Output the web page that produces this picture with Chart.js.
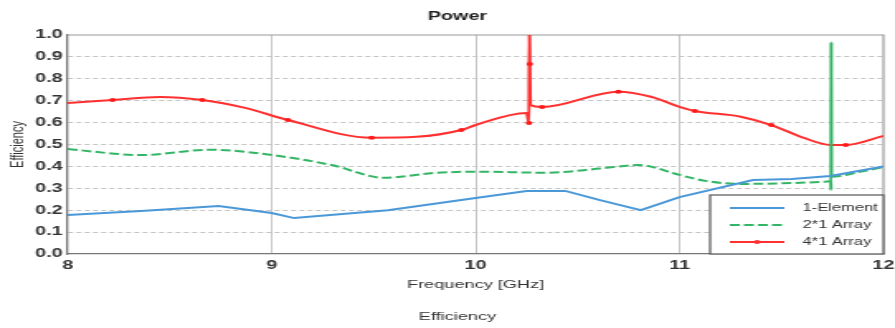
<!DOCTYPE html>
<html>
<head>
<meta charset="utf-8">
<script src="https://cdn.jsdelivr.net/npm/chart.js@4.4.1/dist/chart.umd.min.js"></script>
<style>
    html, body { margin: 0; padding: 0; background: #fff; overflow: hidden; }
</style>
</head>
<body>
<!-- the reference is a horizontally stretched capture: draw narrow, stretch with CSS -->
<canvas id="power-chart" width="542" height="328" style="width:895px;height:328px;display:block"></canvas>
<script>
// values (frequency in GHz, efficiency 0..1)
var seriesNames = ['1-Element', '2*1 Array', '4*1 Array'];

var elementFreq = [8.0, 8.36, 8.74, 9.0, 9.11, 9.57, 10.0, 10.25, 10.44, 10.61, 10.81, 11.0, 11.36, 11.55, 11.74, 12.0];
var elementEff  = [0.178, 0.196, 0.219, 0.187, 0.164, 0.200, 0.256, 0.288, 0.288, 0.246, 0.200, 0.260, 0.338, 0.342, 0.356, 0.400];

var array2Freq = [8.0, 8.36, 8.70, 9.0, 9.30, 9.55, 9.80, 10.0, 10.35, 10.61, 10.80, 11.0, 11.12, 11.30, 11.71, 11.742, 11.743, 11.744, 11.745, 11.89, 12.0];
var array2Eff  = [0.479, 0.452, 0.476, 0.452, 0.405, 0.348, 0.370, 0.376, 0.371, 0.390, 0.406, 0.361, 0.335, 0.320, 0.330, 0.332, 0.292, 0.968, 0.353, 0.376, 0.397];

var array4Freq = [8.0, 8.22, 8.45, 8.66, 8.87, 9.08, 9.49, 9.71, 9.93, 10.0, 10.25, 10.262, 10.264, 10.266, 10.268, 10.326, 10.70, 10.86, 11.0, 11.075, 11.30, 11.45, 11.61, 11.74, 11.815, 12.0];
var array4Eff  = [0.690, 0.703, 0.717, 0.703, 0.667, 0.612, 0.531, 0.535, 0.566, 0.589, 0.644, 0.598, 1.02, 0.868, 0.680, 0.671, 0.741, 0.718, 0.672, 0.653, 0.627, 0.589, 0.530, 0.498, 0.498, 0.539];
// frequencies where the 4*1 curve carries a marker
var array4Marked = [8.22, 8.66, 9.08, 9.49, 9.93, 10.262, 10.266, 10.326, 10.70, 11.075, 11.45, 11.815];

var freqTicks = [8, 9, 10, 11, 12];
var effTicks = [0.0, 0.1, 0.2, 0.3, 0.4, 0.5, 0.6, 0.7, 0.8, 0.9, 1.0];

function toPoints(xs, ys) {
    return xs.map(function (x, i) { return { x: x, y: ys[i] }; });
}

Chart.defaults.font.family = "'Liberation Sans', Arial, sans-serif";
Chart.defaults.color = '#333';

// gray frame round the plot (top and right edges)
var plotFrame = {
    id: 'plotFrame',
    beforeDatasetsDraw: function (chart) {
        var a = chart.chartArea, ctx = chart.ctx;
        ctx.save();
        ctx.strokeStyle = '#9a9a9a';
        ctx.lineWidth = 1.2;
        ctx.beginPath();
        ctx.moveTo(a.left, a.top);
        ctx.lineTo(a.right, a.top);
        ctx.lineTo(a.right, a.bottom);
        ctx.stroke();
        ctx.restore();
    }
};

// boxed legend in the lower right corner of the plot
var boxLegend = {
    id: 'boxLegend',
    afterDatasetsDraw: function (chart) {
        var a = chart.chartArea, ctx = chart.ctx;
        var x0 = a.right - 105, y0 = a.bottom - 59;
        ctx.save();
        ctx.fillStyle = '#fff';
        ctx.fillRect(x0, y0, a.right - x0, a.bottom - y0);
        ctx.strokeStyle = '#555';
        ctx.lineWidth = 1.2;
        ctx.strokeRect(x0, y0, a.right - x0, a.bottom - y0);
        chart.data.datasets.forEach(function (ds, i) {
            var y = y0 + 13 + i * 17;
            ctx.strokeStyle = ds.borderColor;
            ctx.lineWidth = ds.borderWidth;
            ctx.setLineDash(ds.borderDash || []);
            ctx.beginPath();
            ctx.moveTo(x0 + 12, y);
            ctx.lineTo(x0 + 45, y);
            ctx.stroke();
            ctx.setLineDash([]);
            if (ds.legendMarker) {
                ctx.fillStyle = ds.borderColor;
                ctx.beginPath();
                ctx.arc(x0 + 28.5, y, 2, 0, Math.PI * 2);
                ctx.fill();
            }
            ctx.fillStyle = '#333';
            ctx.font = "10px 'Liberation Sans', Arial, sans-serif";
            ctx.textBaseline = 'middle';
            ctx.fillText(ds.label, x0 + 56, y);
        });
        ctx.restore();
    }
};

var chart = new Chart(document.getElementById('power-chart'), {
    type: 'line',
    data: {
        datasets: [{
            label: seriesNames[0],
            data: toPoints(elementFreq, elementEff),
            borderColor: '#4a98d8',
            borderWidth: 2,
            pointRadius: 0,
            tension: 0
        }, {
            label: seriesNames[1],
            data: toPoints(array2Freq, array2Eff),
            borderColor: '#33b565',
            borderWidth: 2,
            borderDash: [6, 2.5],
            pointRadius: 0,
            cubicInterpolationMode: 'monotone',
            // the near-vertical spike is drawn solid
            segment: {
                borderDash: function (c) {
                    return Math.abs(c.p1.parsed.x - c.p0.parsed.x) < 0.01 ? [] : undefined;
                }
            }
        }, {
            label: seriesNames[2],
            data: toPoints(array4Freq, array4Eff),
            borderColor: '#ff3030',
            backgroundColor: '#ff1a1a',
            borderWidth: 2,
            pointRadius: function (c) {
                return array4Marked.indexOf(array4Freq[c.dataIndex]) >= 0 ? 2 : 0;
            },
            pointBorderWidth: 0,
            cubicInterpolationMode: 'monotone',
            legendMarker: true
        }]
    },
    options: {
        responsive: false,
        animation: false,
        events: [],
        layout: { padding: { left: 12, right: 0, top: 0, bottom: 0 } },
        plugins: {
            legend: { display: false },
            tooltip: { enabled: false },
            title: {
                display: true,
                text: 'Power',
                color: '#222',
                font: { size: 12, weight: 'bold' },
                padding: { top: 9.3, bottom: 11.3 }
            },
            subtitle: {
                display: true,
                position: 'bottom',
                text: 'Efficiency',
                color: '#333',
                font: { size: 11 },
                padding: { top: 6, bottom: 4 }
            }
        },
        scales: {
            x: {
                type: 'linear',
                min: 8,
                max: 12,
                afterBuildTicks: function (scale) {
                    scale.ticks = freqTicks.map(function (v) { return { value: v }; });
                },
                afterFit: function (scale) {
                    scale.height = 50.8;
                    scale.paddingRight = 7;
                },
                ticks: {
                    padding: 4.4,
                    color: '#333',
                    font: { size: 12, weight: 'bold' },
                    maxRotation: 0
                },
                grid: {
                    drawTicks: false,
                    lineWidth: 1,
                    color: function (c) {
                        return (c.tick && (c.tick.value === 8 || c.tick.value === 12)) ? 'rgba(0,0,0,0)' : '#c6c6c6';
                    }
                },
                border: { display: true, color: '#777', width: 1.3 },
                title: {
                    display: true,
                    text: 'Frequency [GHz]',
                    color: '#333',
                    font: { size: 11 },
                    padding: { top: 0, bottom: 13.5 }
                }
            },
            y: {
                min: 0,
                max: 1,
                afterBuildTicks: function (scale) {
                    scale.ticks = effTicks.map(function (v) { return { value: v }; });
                },
                afterFit: function (scale) { scale.width = 29; },
                ticks: {
                    padding: 3,
                    color: '#333',
                    font: { size: 12, weight: 'bold' },
                    callback: function (v) { return Number(v).toFixed(1); }
                },
                grid: {
                    drawTicks: false,
                    lineWidth: 1,
                    color: function (c) {
                        return (c.tick && (c.tick.value === 0 || c.tick.value === 1)) ? 'rgba(0,0,0,0)' : '#c4c4c4';
                    }
                },
                border: { display: true, color: '#777', width: 1.3, dash: [3, 2] },
                title: {
                    display: true,
                    text: 'Efficiency',
                    color: '#333',
                    font: { size: 11 },
                    padding: { top: -7.7, bottom: 0 }
                }
            }
        }
    },
    plugins: [plotFrame, boxLegend]
});
</script>
</body>
</html>
